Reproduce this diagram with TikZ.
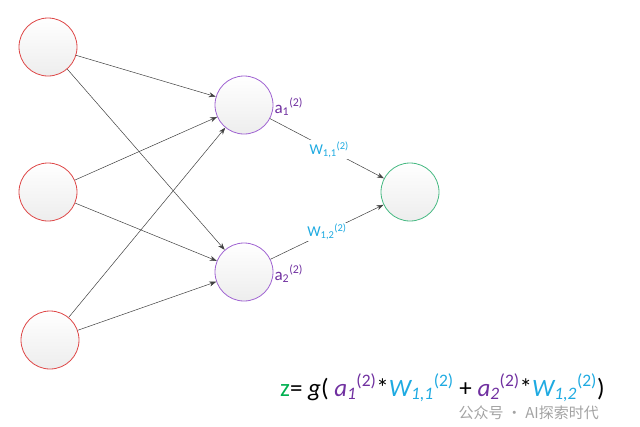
\documentclass[tikz,border=0pt]{standalone}
\usepackage{fontspec}
\setmainfont{Carlito}
\newfontfamily\cjkfont{Noto Sans CJK SC}
\usetikzlibrary{arrows.meta}

\definecolor{inred}{RGB}{222,72,72}
\definecolor{hidpurple}{RGB}{160,100,210}
\definecolor{outgreen}{RGB}{70,185,130}
\definecolor{txtpurple}{RGB}{112,48,160}
\definecolor{wblue}{RGB}{30,170,225}
\definecolor{zgreen}{RGB}{0,176,80}

\newcommand{\supx}[1]{\textsuperscript{#1}}
\newcommand{\subx}[1]{\textsubscript{#1}}

\tikzset{
  neuron/.style={circle, minimum size=58pt, inner sep=0pt, top color=white, bottom color=black!7, line width=0.8pt},
  link/.style={draw=black!75, line width=0.5pt, -{Stealth[length=7pt,width=5pt]}},
  alabel/.style={text=txtpurple, font=\fontsize{17}{19}\selectfont, inner sep=1pt},
  wlabel/.style={text=wblue, font=\fontsize{15}{17}\selectfont, fill=white, inner sep=1pt},
}

\begin{document}
\begin{tikzpicture}[x=1pt,y=-1pt]
\useasboundingbox (0,0) rectangle (640,426);

% layers
\node[neuron, draw=inred] (in1) at (48,47) {};
\node[neuron, draw=inred] (in2) at (48,192) {};
\node[neuron, draw=inred] (in3) at (50,340) {};
\node[neuron, draw=hidpurple] (h1) at (244,105) {};
\node[neuron, draw=hidpurple] (h2) at (244,272) {};
\node[neuron, draw=outgreen] (out) at (410,192) {};

% connections
\foreach \i in {1,2,3}
  \foreach \j in {1,2}
    \draw[link] (in\i) -- (h\j);
\draw[link] (h1) -- node[pos=0.52, wlabel] {W\subx{1,1}\supx{(2)}} (out);
\draw[link] (h2) -- node[pos=0.5, wlabel] {W\subx{1,2}\supx{(2)}} (out);

\node[alabel, anchor=west] (a1) at ([yshift=-2pt]h1.east) {a\subx{1}\supx{(2)}};
\node[alabel, anchor=west] (a2) at ([yshift=-2pt]h2.east) {a\subx{2}\supx{(2)}};

% output formula
\node[anchor=base west, inner sep=0pt, font=\fontsize{25}{27}\selectfont] (zf) at (280,396)
  {{\color{zgreen}z}= \textit{g}( {\color{txtpurple}\textit{a\subx{1}}\supx{(2)}}*{\color{wblue}\textit{W\subx{1,1}}\supx{(2)}} + {\color{txtpurple}\textit{a\subx{2}}\supx{(2)}}*{\color{wblue}\textit{W\subx{1,2}}\supx{(2)}})};

\node[anchor=west, text=black!45, opacity=0.8, font=\cjkfont\fontsize{15}{17}\selectfont] (mark) at (455,413) {公众号 · AI探索时代};
\end{tikzpicture}
\end{document}
